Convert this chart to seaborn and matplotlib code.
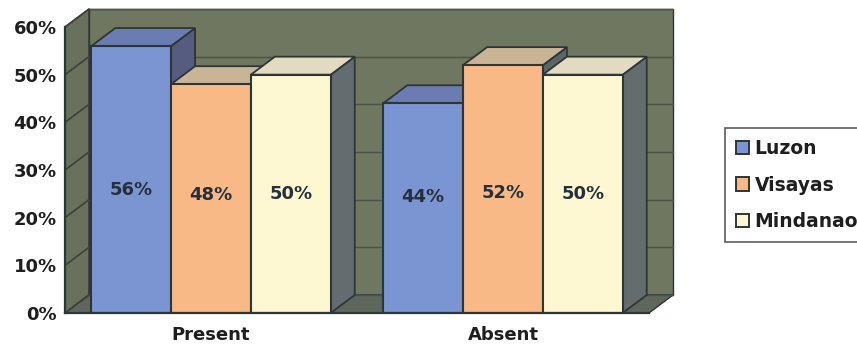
import matplotlib
matplotlib.use("Agg")
import matplotlib.pyplot as plt
from matplotlib.patches import Polygon, Rectangle
from matplotlib.ticker import FixedLocator
import seaborn as sns
import pandas as pd

# Survey shares by island group
statuses = ["Present", "Absent"]
regions = ["Luzon", "Visayas", "Mindanao"]
luzon = [56, 44]
visayas = [48, 52]
mindanao = [50, 50]

front_colors = ["#7b95d2", "#f9b987", "#fdf7d2"]
side_colors = ["#555c80", "#5d6466", "#646c70"]
top_colors = ["#6b7cb2", "#c9b496", "#e2dbc2"]
wall_color = "#6f7761"
floor_color = "#5f675d"
edge_color = "#2c3634"
text_color = "#1e1e1e"

df = pd.DataFrame({
    "status": statuses * 3,
    "region": [r for r in regions for _ in statuses],
    "share": luzon + visayas + mindanao,
})

sns.set_theme(style="white")
plt.rcParams["font.family"] = ["DejaVu Sans"]

W, H = 857, 349
fig = plt.figure(figsize=(W / 100, H / 100), dpi=100)
ax = fig.add_axes([65 / W, 36 / H, 584 / W, 286 / H])
ax.set_facecolor("none")

sns.barplot(data=df, x="status", y="share", hue="region", order=statuses,
            hue_order=regions, palette=front_colors, saturation=1,
            width=0.82, legend=False, edgecolor=edge_color, linewidth=1.5,
            ax=ax)

# collect the front faces with their region index
bars = []
for k, cont in enumerate(ax.containers):
    for p in cont.patches:
        bars.append((p.get_x(), k, p))
bars.sort(key=lambda t: t[0])

ax.set_xlim(-0.5, 1.5)
ax.set_ylim(0, 60)

# depth of the 3-D box in data units
dx = 24 / 292
dy = 18 * 60 / 286
x0, x1 = -0.5, 1.5

# walls and floor of the box
ax.add_patch(Polygon([(x0 + dx, dy), (x1 + dx, dy), (x1 + dx, 60 + dy), (x0 + dx, 60 + dy)],
                     closed=True, fc=wall_color, ec=edge_color, lw=1.0, zorder=0.5, clip_on=False))
ax.add_patch(Polygon([(x0, 0), (x0 + dx, dy), (x0 + dx, 60 + dy), (x0, 60)],
                     closed=True, fc="#69705b", ec=edge_color, lw=1.0, zorder=0.6, clip_on=False))
ax.add_patch(Polygon([(x0, 0), (x1, 0), (x1 + dx, dy), (x0 + dx, dy)],
                     closed=True, fc=floor_color, ec=edge_color, lw=1.0, zorder=0.6, clip_on=False))
for v in range(0, 61, 10):
    ax.plot([x0 + dx, x1 + dx], [v + dy, v + dy], color="#4b5246", lw=1.0,
            zorder=0.7, clip_on=False)
    ax.plot([x0, x0 + dx], [v, v + dy], color="#3c4238", lw=1.2,
            zorder=0.7, clip_on=False)

# side and top faces of every bar, left to right
for i, (bx, k, p) in enumerate(bars):
    bw, bh = p.get_width(), p.get_height()
    z = 3 + i * 0.01
    p.set_zorder(z)
    ax.add_patch(Polygon([(bx + bw, 0), (bx + bw + dx, dy), (bx + bw + dx, bh + dy), (bx + bw, bh)],
                         closed=True, fc=side_colors[k], ec=edge_color, lw=1.3,
                         zorder=z - 0.005, clip_on=False))
    ax.add_patch(Polygon([(bx, bh), (bx + dx, bh + dy), (bx + bw + dx, bh + dy), (bx + bw, bh)],
                         closed=True, fc=top_colors[k], ec=edge_color, lw=1.3,
                         zorder=z - 0.004, clip_on=False))
    ax.text(bx + bw / 2, 19 + 0.12 * bh, f"{bh:.0f}%", ha="center", va="center",
            fontsize=13, fontweight="bold", color="#24303e", zorder=5)

# axes lines and ticks
for s in ["top", "right"]:
    ax.spines[s].set_visible(False)
for s in ["left", "bottom"]:
    ax.spines[s].set_color(edge_color)
    ax.spines[s].set_linewidth(1.6)
    ax.spines[s].set_zorder(6)
ax.set_yticks(range(0, 61, 10))
ax.set_yticklabels([f"{v}%" for v in range(0, 61, 10)])
ax.tick_params(axis="y", length=5, width=1.4, color=edge_color, direction="out",
               labelsize=13, pad=1, labelcolor=text_color)
ax.tick_params(axis="x", length=0, labelsize=13, pad=9, labelcolor=text_color)
ax.xaxis.set_minor_locator(FixedLocator([-0.5, 0.5, 1.5]))
ax.tick_params(axis="x", which="minor", length=5, width=1.4, color=edge_color,
               direction="out")
for lab in ax.get_yticklabels() + ax.get_xticklabels():
    lab.set_fontweight("bold")
ax.set_xlabel("")
ax.set_ylabel("")
ax.grid(False)

# legend
handles = [Rectangle((0, 0), 1, 1, fc=c, ec=edge_color, lw=1.4) for c in front_colors]
leg = fig.legend(handles, regions, loc="center left",
                 bbox_to_anchor=(716 / W, 1 - 185 / H), frameon=True,
                 fancybox=False, edgecolor="#333333", handlelength=0.7,
                 handleheight=0.7, handletextpad=0.3, labelspacing=0.95,
                 borderpad=0.55, prop={"size": 13.5, "weight": "bold"})
leg.get_frame().set_linewidth(1.2)
for t in leg.get_texts():
    t.set_color(text_color)

fig.savefig("out.png", dpi=100, facecolor="white")
